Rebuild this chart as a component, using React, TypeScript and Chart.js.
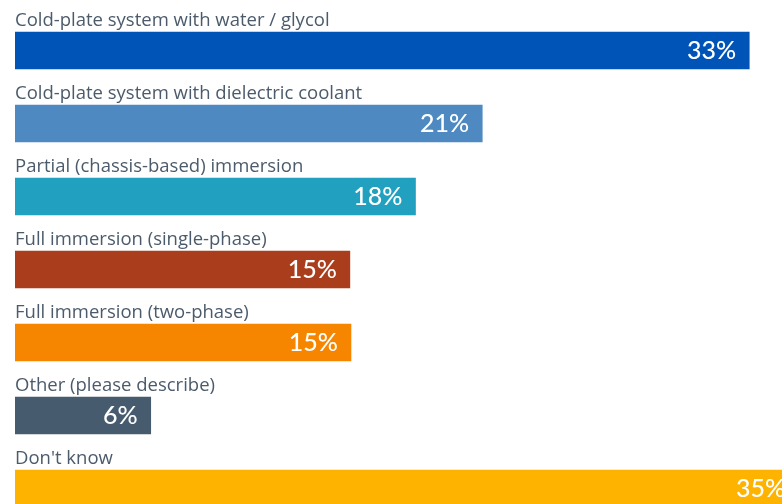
import React, { useEffect, useRef } from "react";
import { Chart, registerables } from "chart.js";

Chart.register(...registerables);

const categories = [
  "Cold-plate system with water / glycol",
  "Cold-plate system with dielectric coolant",
  "Partial (chassis-based) immersion",
  "Full immersion (single-phase)",
  "Full immersion (two-phase)",
  "Other (please describe)",
  "Don't know",
];
const values = [33, 21, 18, 15.05, 15.1, 6.1, 35.2];
const valueLabels = ["33%", "21%", "18%", "15%", "15%", "6%", "35%"];
const barColors = ["#0054B7", "#4E8AC1", "#22A0BF", "#A93D1C", "#F68600", "#475B6F", "#FDB300"];

const labelPlugin = {
  id: "barLabels",
  afterDatasetsDraw(chart: any) {
    const ctx = chart.ctx;
    const meta = chart.getDatasetMeta(0);
    ctx.save();
    meta.data.forEach((bar: any, i: number) => {
      const h = bar.height;
      ctx.font = "18.5px 'Open Sans'";
      ctx.fillStyle = "#4B5B6B";
      ctx.textAlign = "left";
      ctx.textBaseline = "alphabetic";
      ctx.fillText(categories[i], chart.chartArea.left, bar.y - h / 2 - 6.5);
      ctx.font = "500 25px Lato";
      ctx.fillStyle = "#FFFFFF";
      ctx.textAlign = "right";
      ctx.textBaseline = "middle";
      ctx.fillText(valueLabels[i], bar.x - 13, bar.y);
    });
    ctx.restore();
  },
};

export default function App() {
  const ref = useRef<HTMLCanvasElement>(null);
  useEffect(() => {
    if (!ref.current) return;
    const chart = new Chart(ref.current, {
      type: "bar",
      data: {
        labels: categories,
        datasets: [
          {
            data: values,
            backgroundColor: barColors,
            barThickness: 37,
            borderWidth: 0,
          },
        ],
      },
      options: {
        indexAxis: "y",
        animation: false,
        responsive: false,
        devicePixelRatio: 1,
        layout: { padding: { left: 15, top: 14, right: 0, bottom: 0 } },
        plugins: { legend: { display: false }, tooltip: { enabled: false } },
        scales: {
          x: { display: false, min: 0, max: 36 },
          y: { display: false, offset: true },
        },
      },
      plugins: [labelPlugin],
    });
    return () => chart.destroy();
  }, []);
  return (
    <div style={{ position: "fixed", left: 0, top: 0, width: 782, height: 504, overflow: "hidden", background: "#fff" }}>
      <canvas ref={ref} width={816} height={525} style={{ display: "block", width: 816, height: 525 }} />
    </div>
  );
}
